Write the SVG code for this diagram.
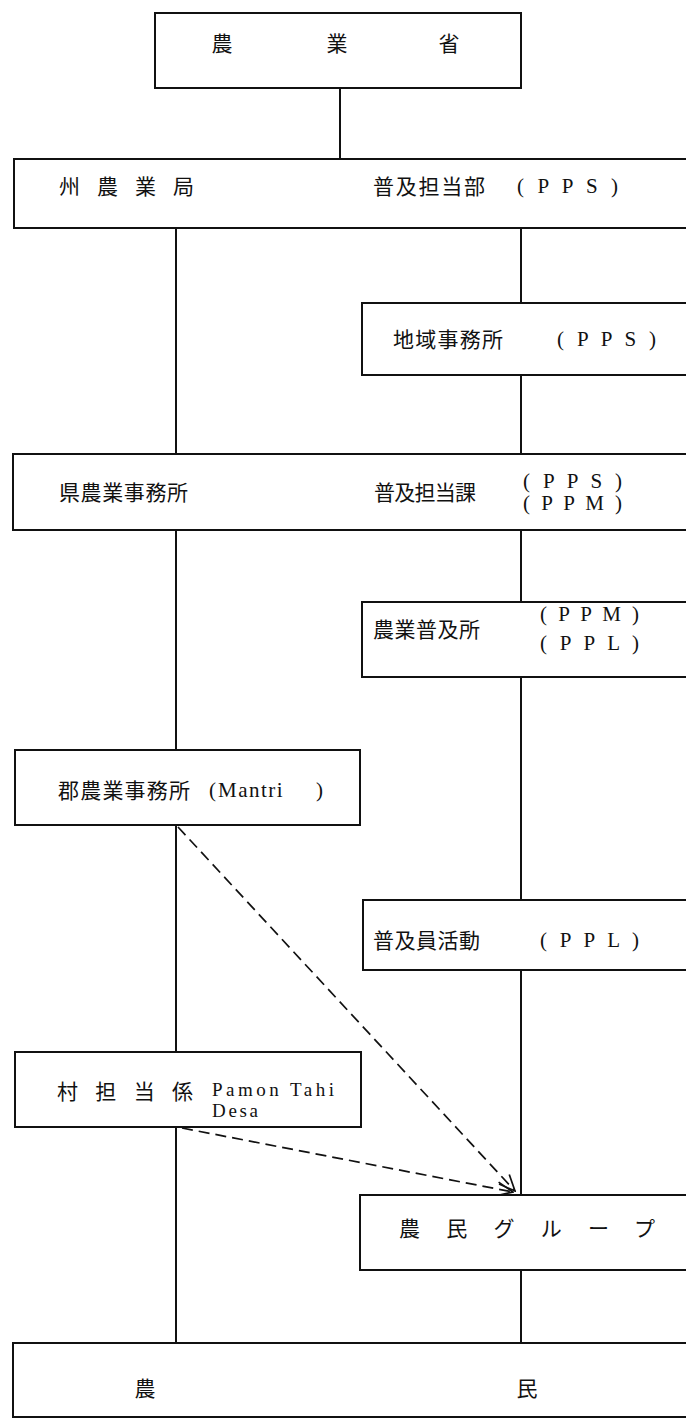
<svg xmlns="http://www.w3.org/2000/svg" width="686" height="1418" viewBox="0 0 686 1418">
<style>
.box{fill:#fff;stroke:#111;stroke-width:2}
.ln{stroke:#111;stroke-width:2;fill:none}
.dash{stroke:#111;stroke-width:1.7;fill:none;stroke-dasharray:11,6}
.jp{font-family:"Noto Sans CJK JP","Liberation Serif",serif;font-size:21px;fill:#111}
.en{font-family:"Liberation Serif","Noto Sans CJK JP",serif;font-size:21px;fill:#111}
.sm{font-family:"Liberation Serif",serif;font-size:19px;fill:#111}
</style>
<defs>
<marker id="arr" viewBox="0 0 20 20" refX="19" refY="10" markerWidth="20" markerHeight="20" markerUnits="userSpaceOnUse" orient="auto">
<path d="M3,3 L19,10 L3,17" fill="none" stroke="#111" stroke-width="1.7"/>
</marker>
</defs>
<rect width="686" height="1418" fill="#fff"/>
<g id="connectors">
<line class="ln" x1="340" y1="88" x2="340" y2="159"/>
<line class="ln" x1="176" y1="228" x2="176" y2="454"/>
<line class="ln" x1="521" y1="228" x2="521" y2="303"/>
<line class="ln" x1="521" y1="375" x2="521" y2="454"/>
<line class="ln" x1="176" y1="530" x2="176" y2="750"/>
<line class="ln" x1="521" y1="530" x2="521" y2="602"/>
<line class="ln" x1="521" y1="677" x2="521" y2="900"/>
<line class="ln" x1="176" y1="825" x2="176" y2="1052"/>
<line class="ln" x1="521" y1="970" x2="521" y2="1195"/>
<line class="ln" x1="176" y1="1127" x2="176" y2="1343"/>
<line class="ln" x1="521" y1="1270" x2="521" y2="1343"/>
<line class="dash" x1="178" y1="827" x2="515" y2="1191" marker-end="url(#arr)"/>
<line class="dash" x1="182" y1="1128" x2="513" y2="1192" marker-end="url(#arr)"/>
</g>
<g id="ministry">
<rect class="box" x="155" y="13" width="366" height="75"/>
<text class="jp" x="222" y="51" text-anchor="middle">農</text>
<text class="jp" x="337" y="51" text-anchor="middle">業</text>
<text class="jp" x="449" y="51" text-anchor="middle">省</text>
</g>
<g id="state">
<rect class="box" x="14" y="159" width="690" height="69"/>
<text class="jp" x="59" y="194" textLength="135" lengthAdjust="spacing">州農業局</text>
<text class="jp" x="373" y="194" textLength="112" lengthAdjust="spacing">普及担当部</text>
<text class="en" x="517" y="193" textLength="101" lengthAdjust="spacing">( P P S )</text>
</g>
<g id="regional">
<rect class="box" x="362" y="303" width="340" height="72"/>
<text class="jp" x="393" y="347" textLength="110" lengthAdjust="spacing">地域事務所</text>
<text class="en" x="557" y="346" textLength="99" lengthAdjust="spacing">( P P S )</text>
</g>
<g id="prefecture">
<rect class="box" x="13" y="454" width="690" height="76"/>
<text class="jp" x="59" y="500" textLength="129" lengthAdjust="spacing">県農業事務所</text>
<text class="jp" x="374" y="500" textLength="102" lengthAdjust="spacing">普及担当課</text>
<text class="en" x="523" y="488" textLength="99" lengthAdjust="spacing">( P P S )</text>
<text class="en" x="523" y="510" textLength="99" lengthAdjust="spacing">( P P M )</text>
</g>
<g id="extension">
<rect class="box" x="362" y="602" width="340" height="75"/>
<text class="jp" x="373" y="637" textLength="107" lengthAdjust="spacing">農業普及所</text>
<text class="en" x="540" y="621" textLength="99" lengthAdjust="spacing">( P P M )</text>
<text class="en" x="540" y="650" textLength="99" lengthAdjust="spacing">( P P L )</text>
</g>
<g id="district">
<rect class="box" x="15" y="750" width="345" height="75"/>
<text class="jp" x="58" y="798" textLength="132" lengthAdjust="spacing">郡農業事務所</text>
<text class="en" x="209" y="797" font-size="22">(</text>
<text class="en" x="218" y="797" font-size="22" letter-spacing="1.5">Mantri</text>
<text class="en" x="316" y="797" font-size="22">)</text>
</g>
<g id="worker">
<rect class="box" x="363" y="900" width="340" height="70"/>
<text class="jp" x="373" y="948" textLength="107" lengthAdjust="spacing">普及員活動</text>
<text class="en" x="540" y="947" textLength="99" lengthAdjust="spacing">( P P L )</text>
</g>
<g id="village">
<rect class="box" x="15" y="1052" width="346" height="75"/>
<text class="jp" x="57" y="1099" textLength="136" lengthAdjust="spacing">村担当係</text>
<text class="sm" x="212" y="1096" textLength="122" lengthAdjust="spacing">Pamon Tahi</text>
<text class="sm" x="212" y="1117" textLength="46" lengthAdjust="spacing">Desa</text>
</g>
<g id="farmergroup">
<rect class="box" x="360" y="1195" width="342" height="75"/>
<text class="jp" x="399" y="1236" textLength="256" lengthAdjust="spacing">農民グループ</text>
</g>
<g id="farmers">
<rect class="box" x="13" y="1343" width="690" height="74"/>
<text class="jp" x="145" y="1396" text-anchor="middle">農</text>
<text class="jp" x="527" y="1396" text-anchor="middle">民</text>
</g>
</svg>
